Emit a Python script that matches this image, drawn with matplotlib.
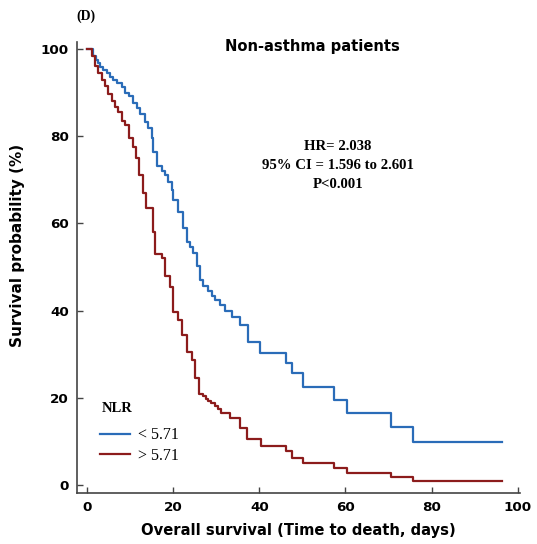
import matplotlib
matplotlib.use("Agg")
import matplotlib.pyplot as plt

# Kaplan-Meier curves, NLR < 5.71 (blue) and > 5.71 (red)
low_t = [0, 1.4, 2.1, 2.6, 3.0, 3.7, 4.6, 5.3, 6.0, 7.0, 8.1, 8.8, 9.7, 10.7, 11.6,
         12.3, 13.5, 14.2, 15.1, 15.3, 16.2, 17.4, 18.1, 18.8, 19.7, 20.0, 21.1, 22.3,
         23.2, 23.9, 24.6, 25.5, 26.2, 26.9, 28.1, 29.0, 29.7, 30.9, 32.0, 33.6, 35.5,
         37.4, 40.1, 46.2, 47.5, 50.2, 57.4, 60.4, 70.5, 75.7, 96.4]
low_s = [100, 98.4, 97.3, 96.6, 95.7, 95.0, 94.3, 93.4, 92.7, 92.0, 91.1, 89.9, 89.2, 87.6, 86.3,
         85.1, 83.1, 81.7, 79.5, 76.2, 73.2, 72.0, 71.0, 69.5, 67.5, 65.2, 62.5, 59.0,
         55.6, 54.5, 53.1, 50.3, 46.9, 45.6, 44.5, 43.3, 42.3, 41.2, 40.0, 38.4, 36.6,
         32.7, 30.2, 27.9, 25.6, 22.4, 19.5, 16.5, 13.3, 9.8, 9.8]

high_t = [0, 1.2, 1.9, 2.6, 3.5, 4.2, 4.9, 5.8, 6.5, 7.2, 8.1, 8.8, 9.7, 10.7, 11.4,
          12.0, 12.9, 13.8, 15.3, 15.8, 17.4, 18.1, 19.3, 20.0, 21.1, 22.0, 23.2, 24.4,
          25.1, 26.0, 27.0, 27.6, 28.1, 28.9, 29.7, 30.4, 31.2, 33.2, 35.5, 37.2, 40.3,
          46.2, 47.5, 50.2, 57.4, 60.4, 70.5, 75.7, 96.4]
high_s = [100, 98.4, 96.1, 94.3, 92.7, 91.5, 89.7, 88.1, 86.5, 85.4, 83.5, 82.4, 79.6, 77.5, 75.0,
          71.0, 67.0, 63.5, 58.0, 53.0, 52.0, 48.0, 45.3, 39.6, 37.8, 34.3, 30.4, 28.6,
          24.5, 20.8, 20.4, 19.7, 19.2, 18.7, 18.1, 17.4, 16.5, 15.3, 13.0, 10.5, 8.9,
          7.9, 6.2, 5.0, 4.0, 2.7, 1.9, 1.0, 1.0]

x_ticks = [0, 20, 40, 60, 80, 100]
y_ticks = [0, 20, 40, 60, 80, 100]
group_labels = ['< 5.71', '> 5.71']
stats_lines = ['HR= 2.038', '95% CI = 1.596 to 2.601', 'P<0.001']

blue = '#2a6cb8'
red = '#8c1c1c'
axis_col = '#444444'
sans = 'DejaVu Sans'
serif = 'Liberation Serif'

W, H = 537, 544
fig = plt.figure(figsize=(W / 100, H / 100), dpi=100)
ax = fig.add_axes([77 / W, (H - 493) / H, (520 - 77) / W, (493 - 42) / H])

ax.step(low_t, low_s, where='post', color=blue, lw=1.6, label=group_labels[0])
ax.step(high_t, high_s, where='post', color=red, lw=1.6, label=group_labels[1])

ax.set_xlim(-2.3, 100.5)
ax.set_ylim(-1.8, 101.5)
ax.set_xticks(x_ticks)
ax.set_yticks(y_ticks)
for s in ['top', 'right']:
    ax.spines[s].set_visible(False)
for s in ['left', 'bottom']:
    ax.spines[s].set_color(axis_col)
    ax.spines[s].set_linewidth(1.2)
ax.tick_params(direction='in', length=4.5, width=1.0, color=axis_col, pad=6,
               labelsize=9.7)
for lab in ax.get_xticklabels() + ax.get_yticklabels():
    lab.set_fontfamily(sans)
    lab.set_fontweight('bold')

ax.set_xlabel('Overall survival (Time to death, days)', fontsize=10.6,
              fontweight='bold', family=sans, labelpad=6)
ax.set_ylabel('Survival probability (%)', fontsize=11,
              fontweight='bold', family=sans)
ax.yaxis.set_label_coords(-0.118, 0.55)

ax.text(52.3, 100.5, 'Non-asthma patients', ha='center', va='center', fontsize=10.6,
        fontweight='bold', family=sans)
fig.text(86 / W, 1 - 16 / H, '(D)', ha='center', va='center', fontsize=10,
         fontweight='bold', family=serif)

for i, line in enumerate(stats_lines):
    ax.text(58.3, 77.5 - i * 4.3, line, ha='center', va='center', fontsize=10.6,
            fontweight='bold', family=serif)

# legend: title as separate text so its gap to the entries can be set
ax.text(3.5, 17.6, 'NLR', ha='left', va='center', fontsize=10.5,
        fontweight='bold', family=serif)
ax.legend(loc='center left', bbox_to_anchor=(0.052, 0.105), frameon=False,
          borderpad=0, borderaxespad=0, handlelength=1.9, handletextpad=0.5,
          labelspacing=0.3, prop={'family': serif, 'size': 11.5})

fig.savefig('out.png', dpi=100)
